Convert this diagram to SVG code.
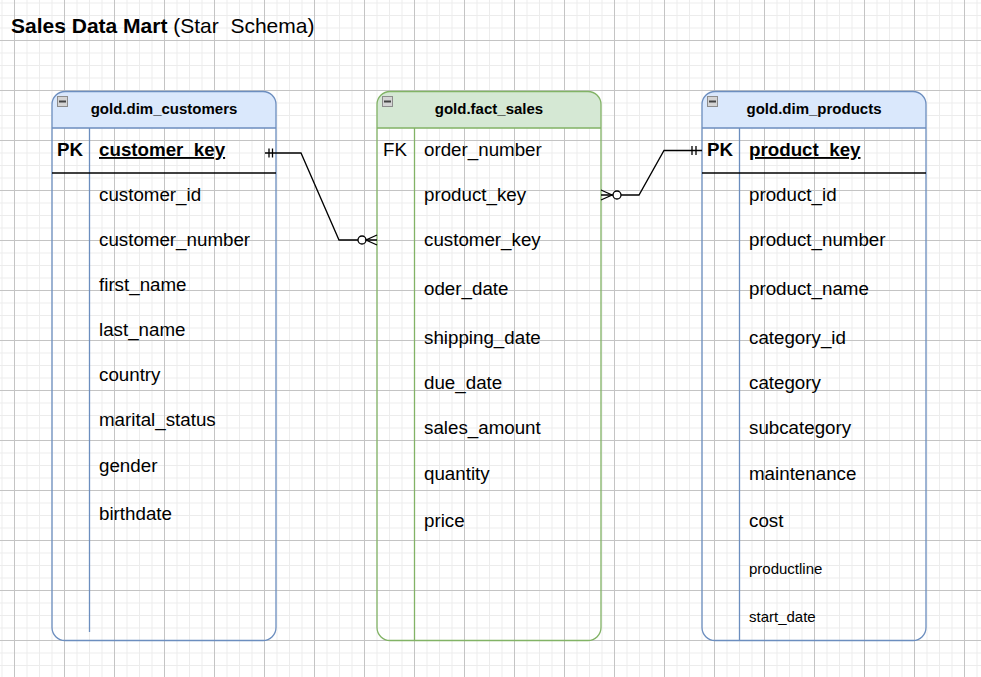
<svg xmlns="http://www.w3.org/2000/svg" width="981" height="677" viewBox="0 0 981 677">
<defs>
<pattern id="minor" patternUnits="userSpaceOnUse" x="1.5" y="2.5" width="12.5" height="12.5">
<path d="M0.5 0V12.5M0 0.5H12.5" stroke="#ececec" stroke-width="1" fill="none"/>
</pattern>
<pattern id="major" patternUnits="userSpaceOnUse" x="14" y="40" width="50" height="50">
<path d="M0.5 0V50M0 0.5H50" stroke="#c4c4c4" stroke-width="1" fill="none"/>
</pattern>
<g id="collapse">
<rect x="0.5" y="0.5" width="10" height="10" fill="#d4d4d4" stroke="#8c8c8c" stroke-width="1"/>
<path d="M2 5.5H9" stroke="#444" stroke-width="2"/>
</g>
</defs>
<style>
.t{font-family:"Liberation Sans",Arial,sans-serif;font-size:18.75px;fill:#000}
.b{font-weight:bold}
.u{text-decoration:underline}
.h{font-family:"Liberation Sans",Arial,sans-serif;font-size:15px;font-weight:bold;text-anchor:middle;fill:#000}
.s{font-family:"Liberation Sans",Arial,sans-serif;font-size:15px;fill:#000}
.blue{stroke:#6c8ebf;stroke-width:1.3}
.green{stroke:#82b366;stroke-width:1.3}
.edge{fill:none;stroke:#000;stroke-width:1.3}
</style>
<rect width="981" height="677" fill="#fff"/>
<rect width="981" height="677" fill="url(#minor)"/>
<rect width="981" height="677" fill="url(#major)"/>

<text x="11" y="33" font-family="Liberation Sans, Arial, sans-serif" font-size="21" xml:space="preserve"><tspan font-weight="bold">Sales Data Mart</tspan> (Star  Schema)</text>

<g id="dim_customers">
<path d="M52 128V104.5A13 13 0 0 1 65 91.5H263A13 13 0 0 1 276 104.5V128Z" fill="#dae8fc"/>
<rect x="52" y="91.5" width="224" height="549" rx="13" fill="none" class="blue"/>
<line x1="52" y1="128" x2="276" y2="128" class="blue"/>
<line x1="89.5" y1="128" x2="89.5" y2="632" class="blue"/>
<line x1="52" y1="173" x2="276" y2="173" stroke="#000" stroke-width="1.5"/>
<use href="#collapse" x="57" y="96"/>
<text x="164" y="114" class="h">gold.dim_customers</text>
<text x="57" y="156" class="t b">PK</text>
<text x="99" y="156" class="t b u">customer_key</text>
<text x="99" y="200.5" class="t">customer_id</text>
<text x="99" y="245.5" class="t">customer_number</text>
<text x="99" y="290.5" class="t">first_name</text>
<text x="99" y="335.5" class="t">last_name</text>
<text x="99" y="380.5" class="t">country</text>
<text x="99" y="425.5" class="t">marital_status</text>
<text x="99" y="471.5" class="t">gender</text>
<text x="99" y="519.5" class="t">birthdate</text>
</g>

<g id="fact_sales">
<path d="M377 128V104.5A13 13 0 0 1 390 91.5H588A13 13 0 0 1 601 104.5V128Z" fill="#d5e8d4"/>
<rect x="377" y="91.5" width="224" height="549" rx="13" fill="none" class="green"/>
<line x1="377" y1="128" x2="601" y2="128" class="green"/>
<line x1="414.5" y1="128" x2="414.5" y2="640" class="green"/>
<use href="#collapse" x="382" y="96"/>
<text x="489" y="114" class="h">gold.fact_sales</text>
<text x="383" y="156" class="t">FK</text>
<text x="424" y="156" class="t">order_number</text>
<text x="424" y="200.5" class="t">product_key</text>
<text x="424" y="245.5" class="t">customer_key</text>
<text x="424" y="294.5" class="t">oder_date</text>
<text x="424" y="343.5" class="t">shipping_date</text>
<text x="424" y="388.5" class="t">due_date</text>
<text x="424" y="433.5" class="t">sales_amount</text>
<text x="424" y="479.5" class="t">quantity</text>
<text x="424" y="526.5" class="t">price</text>
</g>

<g id="dim_products">
<path d="M702 128V104.5A13 13 0 0 1 715 91.5H913A13 13 0 0 1 926 104.5V128Z" fill="#dae8fc"/>
<rect x="702" y="91.5" width="224" height="549" rx="13" fill="none" class="blue"/>
<line x1="702" y1="128" x2="926" y2="128" class="blue"/>
<line x1="739.5" y1="128" x2="739.5" y2="640" class="blue"/>
<line x1="702" y1="173" x2="926" y2="173" stroke="#000" stroke-width="1.5"/>
<use href="#collapse" x="707" y="96"/>
<text x="814" y="114" class="h">gold.dim_products</text>
<text x="707" y="156" class="t b">PK</text>
<text x="749" y="156" class="t b u">product_key</text>
<text x="749" y="200.5" class="t">product_id</text>
<text x="749" y="245.5" class="t">product_number</text>
<text x="749" y="294.5" class="t">product_name</text>
<text x="749" y="343.5" class="t">category_id</text>
<text x="749" y="388.5" class="t">category</text>
<text x="749" y="433.5" class="t">subcategory</text>
<text x="749" y="479.5" class="t">maintenance</text>
<text x="749" y="526.5" class="t">cost</text>
<text x="749" y="573.5" class="s">productline</text>
<text x="749" y="621.5" class="s">start_date</text>
</g>

<g id="connectors">
<path class="edge" d="M265 153H301L339 240H377"/>
<path class="edge" d="M269 148.5V157.5M272.5 148.5V157.5"/>
<circle cx="362" cy="240" r="4" fill="#fff" stroke="#000" stroke-width="1.3"/>
<path class="edge" d="M377 235L366 240L377 245"/>
<path class="edge" d="M601 195H639L664 150.5H702"/>
<path class="edge" d="M692 146V155M696 146V155"/>
<circle cx="617" cy="195" r="4" fill="#fff" stroke="#000" stroke-width="1.3"/>
<path class="edge" d="M601 190L612 195L601 200"/>
</g>
</svg>
